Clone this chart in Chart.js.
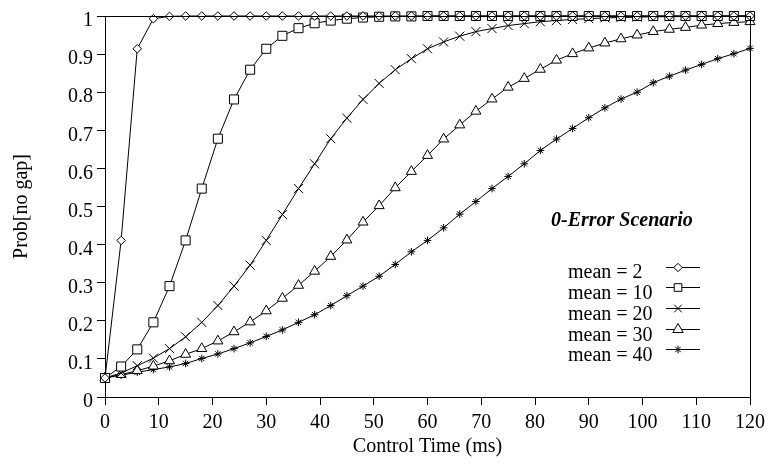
<!DOCTYPE html>
<html>
<head>
<meta charset="utf-8">
<script src="https://cdn.jsdelivr.net/npm/chart.js"></script>
<style>
  html, body { margin: 0; padding: 0; background: #fff; }
  #wrap { width: 771px; height: 470px; position: relative; }
</style>
</head>
<body>
<div id="wrap"><canvas id="chart-gap"></canvas></div>
<script>
const times = [0, 3, 6, 9, 12, 15, 18, 21, 24, 27, 30, 33, 36, 39, 42, 45, 48, 51, 54, 57, 60,
  63, 66, 69, 72, 75, 78, 81, 84, 87, 90, 93, 96, 99, 102, 105, 108, 111, 114, 117, 120];

const mean2 = [0.05, 0.411, 0.914, 0.993, 0.999, 1, 1, 1, 1, 1, 1, 1, 1, 1, 1, 1, 1, 1, 1, 1, 1,
  1, 1, 1, 1, 1, 1, 1, 1, 1, 1, 1, 1, 1, 1, 1, 1, 1, 1, 1, 1];
const mean10 = [0.05, 0.08, 0.125, 0.196, 0.291, 0.411, 0.547, 0.678, 0.781, 0.859, 0.914,
  0.948, 0.968, 0.981, 0.988, 0.993, 0.996, 0.998, 0.999, 0.999, 1,
  1, 1, 1, 1, 1, 1, 1, 1, 1, 1, 1, 1, 1, 1, 1, 1, 1, 1, 1, 1];
const mean20 = [0.05, 0.063, 0.082, 0.102, 0.127, 0.158, 0.196, 0.24, 0.291, 0.346, 0.411,
  0.479, 0.547, 0.612, 0.678, 0.732, 0.781, 0.823, 0.859, 0.888, 0.914,
  0.932, 0.947, 0.959, 0.967, 0.975, 0.98, 0.985, 0.988, 0.991, 0.993,
  0.995, 0.996, 0.997, 0.998, 0.998, 0.999, 0.999, 0.999, 1, 1];
const mean30 = [0.05, 0.059, 0.069, 0.081, 0.095, 0.112, 0.127, 0.147, 0.171, 0.197, 0.226,
  0.259, 0.293, 0.33, 0.369, 0.412, 0.459, 0.502, 0.549, 0.592, 0.634,
  0.677, 0.714, 0.75, 0.782, 0.813, 0.836, 0.86, 0.884, 0.901, 0.916,
  0.929, 0.94, 0.95, 0.959, 0.965, 0.97, 0.976, 0.98, 0.983, 0.985];
const mean40 = [0.05, 0.057, 0.065, 0.072, 0.079, 0.088, 0.101, 0.113, 0.127, 0.142, 0.159,
  0.176, 0.196, 0.216, 0.24, 0.266, 0.291, 0.317, 0.348, 0.381, 0.411,
  0.444, 0.48, 0.513, 0.547, 0.579, 0.612, 0.647, 0.677, 0.705, 0.733,
  0.759, 0.782, 0.8, 0.825, 0.842, 0.858, 0.873, 0.888, 0.901, 0.915];

const seriesNames = ["mean = 2", "mean = 10", "mean = 20", "mean = 30", "mean = 40"];
const xTicks = [0, 10, 20, 30, 40, 50, 60, 70, 80, 90, 100, 110, 120];
const yTicks = [0, 0.1, 0.2, 0.3, 0.4, 0.5, 0.6, 0.7, 0.8, 0.9, 1];
const scenarioLabel = "0-Error Scenario";
const xTitle = "Control Time (ms)";
const yTitle = "Prob[no gap]";

const serif = "'Liberation Serif', 'Times New Roman', serif";
Chart.defaults.font.family = serif;
Chart.defaults.font.size = 20;
Chart.defaults.color = "#000";

// marker look per series: [pointStyle, radius in plot, radius in key]
const markers = [
  ["rectRot", 4.3, 4.2],
  ["rect", 6.4, 5.4],
  ["crossRot", 6.4, 5.4],
  ["triangle", 5.8, 6],
  ["star", 3.8, 3.8],
];

const allValues = [mean2, mean10, mean20, mean30, mean40];

function toPoints(vals) {
  return times.map((t, i) => ({ x: t, y: vals[i] }));
}

const chartData = {
  datasets: allValues.map((vals, i) => ({
    label: seriesNames[i],
    data: toPoints(vals),
    borderColor: "#000",
    borderWidth: 1,
    backgroundColor: "#fff",
    pointStyle: markers[i][0],
    pointRadius: markers[i][1],
    pointHoverRadius: markers[i][1],
    pointBorderColor: "#000",
    pointBackgroundColor: "#fff",
    pointBorderWidth: 1,
    tension: 0,
    clip: false,
  })),
};

// frame, titles and the hand-made key
const extras = {
  id: "extras",
  afterDraw(chart) {
    const { ctx, chartArea: a } = chart;
    ctx.save();
    ctx.strokeStyle = "#000";
    ctx.lineWidth = 1;
    ctx.beginPath();
    ctx.moveTo(a.left, Math.round(a.top) + 0.5);
    ctx.lineTo(a.right, Math.round(a.top) + 0.5);
    ctx.moveTo(Math.round(a.right) + 0.5, a.top);
    ctx.lineTo(Math.round(a.right) + 0.5, a.bottom);
    ctx.stroke();

    ctx.fillStyle = "#000";
    ctx.font = "20px " + serif;
    ctx.textAlign = "center";
    ctx.textBaseline = "alphabetic";
    ctx.fillText(xTitle, (a.left + a.right) / 2, 452);

    ctx.save();
    ctx.translate(27, (a.top + a.bottom) / 2);
    ctx.rotate(-Math.PI / 2);
    ctx.fillText(yTitle, 0, 0);
    ctx.restore();

    ctx.textAlign = "left";
    ctx.font = "italic bold 20px " + serif;
    ctx.fillText(scenarioLabel, 551, 226);

    ctx.font = "20px " + serif;
    const rowY = [266.7, 287.3, 308.3, 329, 349.3];
    seriesNames.forEach((name, i) => {
      const y = rowY[i];
      ctx.fillStyle = "#000";
      ctx.fillText(name, 568, y + 11.6);
      ctx.beginPath();
      ctx.moveTo(666, Math.round(y) + 0.5);
      ctx.lineTo(700, Math.round(y) + 0.5);
      ctx.stroke();
      ctx.fillStyle = "#fff";
      Chart.helpers.drawPoint(ctx, {
        pointStyle: markers[i][0],
        radius: markers[i][2],
        rotation: 0,
        borderWidth: 1,
      }, 678, Math.round(y) + 0.5);
    });
    ctx.restore();
  },
};

const config = {
  type: "line",
  data: chartData,
  options: {
    responsive: false,
    animation: false,
    layout: { padding: { left: 0, right: 19, top: 10, bottom: 0 } },
    plugins: {
      legend: { display: false },
      tooltip: { enabled: false },
    },
    scales: {
      x: {
        type: "linear",
        min: 0,
        max: 120,
        afterFit: (s) => { s.height = 73; },
        afterBuildTicks: (s) => { s.ticks = xTicks.map((v) => ({ value: v })); },
        grid: { drawOnChartArea: false, tickLength: 8, color: "#000" },
        border: { display: true, color: "#000", width: 1, dash: [6, 3] },
        ticks: { padding: 6, maxRotation: 0, callback: (v) => String(v) },
      },
      y: {
        type: "linear",
        min: 0,
        max: 1,
        afterFit: (s) => { s.width = 105; },
        afterBuildTicks: (s) => { s.ticks = yTicks.map((v) => ({ value: v })); },
        grid: { drawOnChartArea: false, tickLength: 8, color: "#000" },
        border: { display: true, color: "#000", width: 1 },
        ticks: { padding: 4, labelOffset: 5, callback: (v) => String(v) },
      },
    },
  },
  plugins: [extras],
};

const canvas = document.getElementById("chart-gap");
canvas.width = 771;
canvas.height = 470;
let chart = new Chart(canvas, config);
</script>
</body>
</html>
